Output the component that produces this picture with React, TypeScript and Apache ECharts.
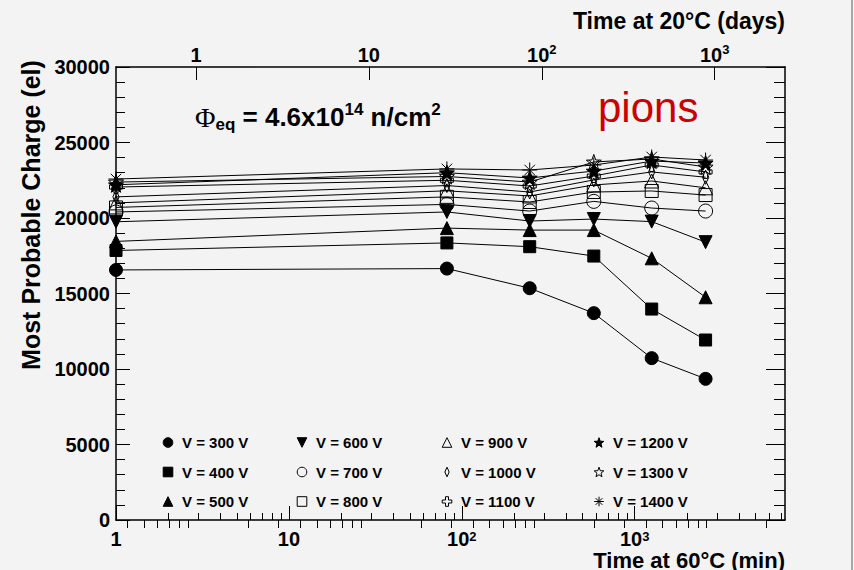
import { useEffect, useRef } from 'react';
import * as echarts from 'echarts';

// Cumulative annealing time at 60 °C (minutes)
const TIME_MIN = [1, 82, 247, 580, 1254, 2570];

// Most probable collected charge (electrons) per bias voltage
const V300 = [16560, 16650, 15350, 13700, 10720, 9350];
const V400 = [17850, 18350, 18100, 17480, 13970, 11920];
const V500 = [18450, 19330, 19200, 19200, 17330, 14750];
const V600 = [19750, 20400, 19800, 19930, 19760, 18400];
const V700 = [20400, 20900, 20460, 21100, 20660, 20460];
const V800 = [20700, 21400, 21060, 21720, 21790, 21520];
const V900 = [21000, 21800, 21460, 22190, 22450, 22000];
const V1000 = [21400, 22150, 21720, 22520, 23050, 22700];
const V1100 = [22050, 22500, 22120, 22780, 23510, 23050];
const V1200 = [22200, 23000, 22650, 23110, 23770, 23640];
const V1300 = [22380, 22750, 22380, 23710, 23910, 23380];
const V1400 = [22580, 23250, 23180, 23510, 24040, 23840];

const SERIES_VALUES = [V300, V400, V500, V600, V700, V800, V900, V1000, V1100, V1200, V1300, V1400];
const VOLTAGE_LABELS = [
  'V = 300 V', 'V = 400 V', 'V = 500 V', 'V = 600 V', 'V = 700 V', 'V = 800 V',
  'V = 900 V', 'V = 1000 V', 'V = 1100 V', 'V = 1200 V', 'V = 1300 V', 'V = 1400 V',
];

// Axis ranges and ticks
const X_MIN = 1;
const X_MAX = 7400;
const MIN_PER_DAY = 2.9; // minutes at 60 °C equivalent to one day at 20 °C
const DECADE_TICKS = [1, 10, 100, 1000];
const Y_MAX = 30000;
const Y_STEP = 5000;

const logMinorTicks = (lo: number, hi: number) => {
  const out: number[] = [];
  for (let e = -1; e <= 4; e++) {
    for (let m = 2; m <= 9; m++) {
      const v = +(m * Math.pow(10, e)).toPrecision(6);
      if (v > lo && v < hi) out.push(v);
    }
  }
  return out;
};

const FONT = '"Liberation Sans", Arial, Helvetica, sans-serif';
const BG = '#f3f3f3';

// Marker shapes
const STAR = (() => {
  const pts: string[] = [];
  for (let i = 0; i < 10; i++) {
    const r = i % 2 === 0 ? 10 : 4.2;
    const a = -Math.PI / 2 + (i * Math.PI) / 5;
    pts.push(`${(r * Math.cos(a)).toFixed(2)} ${(r * Math.sin(a)).toFixed(2)}`);
  }
  return 'path://M' + pts.join(' L') + ' Z';
})();
const DIAMOND = 'path://M0 -10 L4.5 0 L0 10 L-4.5 0 Z M-10 -10 M10 10';
const CROSS = 'path://M-2.5 -8 L2.5 -8 L2.5 -2.5 L8 -2.5 L8 2.5 L2.5 2.5 L2.5 8 L-2.5 8 L-2.5 2.5 L-8 2.5 L-8 -2.5 L-2.5 -2.5 Z';
const ASTERISK = 'path://M0 -10 L0 10 M-10 0 L10 0 M-7 -7 L7 7 M-7 7 L7 -7';

const FILLED = '#000';
const HOLLOW = 'rgba(0,0,0,0)';

const MARKERS = [
  { symbol: 'circle', size: 13, fill: FILLED, rotate: 0 },
  { symbol: 'rect', size: 12, fill: FILLED, rotate: 0 },
  { symbol: 'triangle', size: 13, fill: FILLED, rotate: 0 },
  { symbol: 'triangle', size: 13, fill: FILLED, rotate: 180 },
  { symbol: 'circle', size: 14, fill: HOLLOW, rotate: 0 },
  { symbol: 'rect', size: 13, fill: HOLLOW, rotate: 0 },
  { symbol: 'triangle', size: 14, fill: HOLLOW, rotate: 0 },
  { symbol: DIAMOND, size: 14, fill: HOLLOW, rotate: 0 },
  { symbol: CROSS, size: 13, fill: HOLLOW, rotate: 0 },
  { symbol: STAR, size: 15, fill: FILLED, rotate: 0 },
  { symbol: STAR, size: 15, fill: HOLLOW, rotate: 0 },
  { symbol: ASTERISK, size: 15, fill: HOLLOW, rotate: 0 },
];

const powLabel = (v: number) => {
  const e = Math.round(Math.log10(v));
  if (e === 0) return '1';
  if (e === 1) return '10';
  return `10{sup|${e}}`;
};

const supRich = {
  sup: { fontSize: 13, fontWeight: 'bold', fontFamily: FONT, color: '#000', verticalAlign: 'top', lineHeight: 13 },
};

const labelStyle = {
  fontFamily: FONT,
  fontWeight: 'bold',
  fontSize: 20,
  color: '#000',
};

function buildOption() {
  const topMin = X_MIN / MIN_PER_DAY;
  const topMax = X_MAX / MIN_PER_DAY;
  const frameLine = { show: true, onZero: false, lineStyle: { color: '#000', width: 1.5 } };

  const xAxis = [
    {
      type: 'log', position: 'bottom', min: X_MIN, max: X_MAX,
      axisLine: frameLine,
      axisTick: { inside: true, length: 14, customValues: DECADE_TICKS, lineStyle: { color: '#000', width: 1 } },
      axisLabel: { ...labelStyle, customValues: DECADE_TICKS, formatter: powLabel, margin: 10, lineHeight: 17, rich: supRich },
      splitLine: { show: false },
    },
    {
      type: 'log', position: 'bottom', min: X_MIN, max: X_MAX,
      axisLine: { show: false },
      axisTick: { inside: true, length: 7, customValues: logMinorTicks(X_MIN, X_MAX), lineStyle: { color: '#000', width: 1 } },
      axisLabel: { show: false },
      splitLine: { show: false },
    },
    {
      type: 'log', position: 'top', min: topMin, max: topMax,
      axisLine: frameLine,
      axisTick: { inside: true, length: 13, customValues: DECADE_TICKS, lineStyle: { color: '#000', width: 1 } },
      axisLabel: { ...labelStyle, customValues: DECADE_TICKS, formatter: powLabel, margin: 0, lineHeight: 24, rich: supRich },
      splitLine: { show: false },
    },
    {
      type: 'log', position: 'top', min: topMin, max: topMax,
      axisLine: { show: false },
      axisTick: { inside: true, length: 8, customValues: logMinorTicks(topMin, topMax), lineStyle: { color: '#000', width: 1 } },
      axisLabel: { show: false },
      splitLine: { show: false },
    },
  ];

  const yAxis = [
    {
      type: 'value', position: 'left', min: 0, max: Y_MAX, interval: Y_STEP,
      axisLine: frameLine,
      axisTick: { inside: true, length: 14, lineStyle: { color: '#000', width: 1 } },
      minorTick: { show: true, splitNumber: 5, length: 9, lineStyle: { color: '#000', width: 1 } },
      axisLabel: { ...labelStyle, margin: 6, formatter: (v: number) => String(v) },
      splitLine: { show: false },
    },
    {
      type: 'value', position: 'right', min: 0, max: Y_MAX, interval: Y_STEP,
      axisLine: frameLine,
      axisTick: { inside: true, length: 19, lineStyle: { color: '#000', width: 1 } },
      minorTick: { show: true, splitNumber: 5, length: 11, lineStyle: { color: '#000', width: 1 } },
      axisLabel: { show: false },
      splitLine: { show: false },
    },
  ];

  const series = SERIES_VALUES.map((vals, i) => {
    const m = MARKERS[i];
    return {
      name: VOLTAGE_LABELS[i],
      type: 'line',
      xAxisIndex: 0,
      yAxisIndex: 0,
      data: TIME_MIN.map((t, j) => [t, vals[j]]),
      symbol: m.symbol,
      symbolSize: m.size,
      symbolRotate: m.rotate,
      showAllSymbol: true,
      lineStyle: { color: '#000', width: 1 },
      itemStyle: { color: m.fill, borderColor: '#000', borderWidth: 1 },
      emphasis: { disabled: true },
    };
  });

  const legendLeft = [154, 288, 433, 585];
  const legend = legendLeft.map((left, c) => ({
    orient: 'vertical',
    left,
    top: 430,
    itemWidth: 18,
    itemHeight: 12,
    itemGap: 14.5,
    selectedMode: false,
    data: VOLTAGE_LABELS.slice(c * 3, c * 3 + 3),
    textStyle: { fontFamily: FONT, fontWeight: 'bold', fontSize: 15, color: '#000' },
    lineStyle: { width: 0, opacity: 0 },
    itemStyle: { borderWidth: 1 },
  }));

  const titleStyle = { fontFamily: FONT, fontWeight: 'bold', fontSize: 23, lineHeight: 20, fill: '#000' };

  const graphic = [
    {
      type: 'text', right: 69, top: 9,
      style: { ...titleStyle, text: 'Time at 20\u00B0C (days)' },
    },
    {
      type: 'text', right: 69, top: 549,
      style: { ...titleStyle, fontSize: 22, lineHeight: 17, text: 'Time at 60\u00B0C (min)' },
    },
    {
      // y-axis title, aligned toward the top of the frame
      type: 'text', x: 31, y: 215, rotation: Math.PI / 2,
      style: {
        text: 'Most Probable Charge (el)',
        align: 'center', verticalAlign: 'middle',
        fontFamily: FONT, fontWeight: 'bold', fontSize: 25, fill: '#000',
      },
    },
    {
      type: 'text', left: 195, top: 101,
      style: {
        text: '{phi|\u03A6}{sub|eq}{b| = 4.6x10}{sup|14}{b| n/cm}{sup|2}',
        rich: {
          phi: { fontFamily: '"Liberation Serif", "DejaVu Serif", serif', fontSize: 28, lineHeight: 32, fill: '#000' },
          sub: { fontFamily: FONT, fontWeight: 'bold', fontSize: 17, verticalAlign: 'bottom', lineHeight: 19, fill: '#000' },
          b: { fontFamily: FONT, fontWeight: 'bold', fontSize: 26, lineHeight: 32, fill: '#000' },
          sup: { fontFamily: FONT, fontWeight: 'bold', fontSize: 17, verticalAlign: 'top', lineHeight: 17, fill: '#000' },
        },
        fill: '#000',
      },
    },
    {
      type: 'text', left: 598, top: 86,
      style: { text: 'pions', fontFamily: FONT, fontSize: 42, fill: '#cc0000' },
    },
    {
      type: 'rect', left: 851, top: 0,
      shape: { width: 2, height: 570 },
      style: { fill: '#a8a8a8' },
    },
  ];

  return {
    animation: false,
    backgroundColor: BG,
    grid: { left: 116, top: 67, width: 669, height: 453, containLabel: false },
    xAxis,
    yAxis,
    legend,
    series,
    graphic,
  };
}

export default function App() {
  const ref = useRef<HTMLDivElement>(null);
  useEffect(() => {
    if (!ref.current) return;
    const chart = echarts.init(ref.current, null, { renderer: 'svg' });
    chart.setOption(buildOption() as any);
    return () => chart.dispose();
  }, []);
  return (
    <div
      ref={ref}
      style={{ position: 'fixed', left: 0, top: 0, width: 854, height: 570, background: BG }}
    />
  );
}
